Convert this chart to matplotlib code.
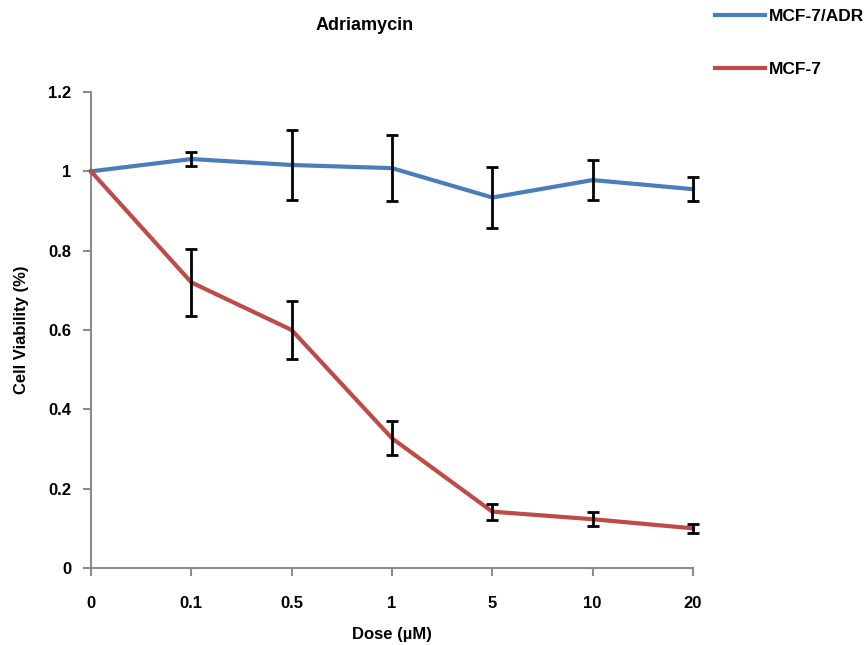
import matplotlib.pyplot as plt
import numpy as np

# data
doses = ['0', '0.1', '0.5', '1', '5', '10', '20']
adr_mean = [1.0, 1.031, 1.016, 1.008, 0.934, 0.978, 0.955]
adr_err = [0.0, 0.018, 0.088, 0.084, 0.077, 0.050, 0.030]
mcf7_mean = [1.0, 0.720, 0.600, 0.327, 0.142, 0.123, 0.100]
mcf7_err = [0.0, 0.084, 0.073, 0.043, 0.020, 0.018, 0.012]
yticks = [0, 0.2, 0.4, 0.6, 0.8, 1, 1.2]

plt.rcParams['font.family'] = ['Liberation Sans', 'DejaVu Sans']
plt.rcParams['font.weight'] = 'bold'

fig = plt.figure(figsize=(8.68, 6.45), dpi=100)
ax = fig.add_axes([91 / 868, 1 - 568 / 645, (693 - 91) / 868, (568 - 92) / 645])

x = np.arange(len(doses))
blue = '#4a7ebb'
red = '#be4b48'

# lines
l1, = ax.plot(x, adr_mean, color=blue, lw=3, label='MCF-7/ADR', zorder=3, clip_on=False)
l2, = ax.plot(x, mcf7_mean, color=red, lw=3, label='MCF-7', zorder=3, clip_on=False)

# error bars
for m, e in [(adr_mean, adr_err), (mcf7_mean, mcf7_err)]:
    eb = ax.errorbar(x[1:], m[1:], yerr=e[1:], fmt='none', ecolor='black',
                     elinewidth=2, capsize=4, capthick=2, zorder=4)
    for art in eb.lines[1] + eb.lines[2]:
        art.set_clip_on(False)

# axis
ax.set_xlim(0, len(doses) - 1)
ax.set_ylim(0, 1.2)
ax.set_xticks(x)
ax.set_xticklabels(doses, fontsize=12, fontweight='bold')
ax.set_yticks(yticks)
ax.set_yticklabels([str(t) for t in yticks], fontsize=12, fontweight='bold')
for s in ['top', 'right']:
    ax.spines[s].set_visible(False)
for s in ['left', 'bottom']:
    ax.spines[s].set_color('#8c8c8c')
    ax.spines[s].set_linewidth(1.5)
ax.tick_params(axis='both', direction='out', length=6, width=1.5, color='#8c8c8c')
ax.tick_params(axis='x', pad=14)
ax.tick_params(axis='y', pad=8)
ax.set_xlabel('Dose (\u00b5M)', fontsize=12, fontweight='bold', labelpad=12)
ax.set_ylabel('Cell Viability (%)', fontsize=12, fontweight='bold', labelpad=14)

# title
fig.text(365 / 868, 1 - 25 / 645, 'Adriamycin', ha='center', va='center',
         fontsize=13, fontweight='bold')

# legend
fig.legend(handles=[l1, l2], loc='upper left', bbox_to_anchor=(708 / 868, 1 - 2 / 645),
           borderaxespad=0, borderpad=0.4, frameon=False, handlelength=2.9,
           handletextpad=0.2, labelspacing=2.2,
           prop={'size': 12.5, 'weight': 'bold'})

fig.savefig('out.png', dpi=100)
